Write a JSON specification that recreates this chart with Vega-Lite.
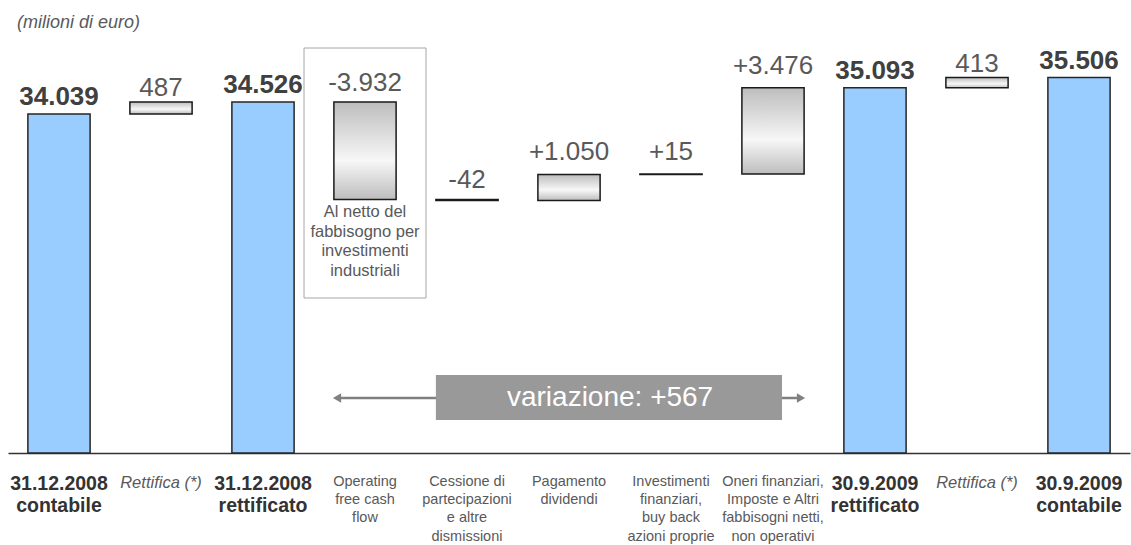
{
  "$schema": "https://vega.github.io/schema/vega-lite/v6.json",
  "width": 1122,
  "height": 420,
  "autosize": {"type": "none"},
  "padding": {"left": 8, "top": 33, "right": 1, "bottom": 92},
  "background": "white",
  "config": {
    "view": {"stroke": null},
    "font": "Liberation Sans",
    "locale": {
      "number": {"decimal": ",", "thousands": ".", "grouping": [3], "currency": ["", " €"], "minus": "-"}
    }
  },
  "title": {
    "text": "(milioni di euro)",
    "anchor": "start",
    "font": "Liberation Sans",
    "fontStyle": "italic",
    "fontWeight": "normal",
    "fontSize": 18,
    "color": "#595959",
    "dx": 9,
    "offset": 1
  },
  "data": {
    "values": [
      {"voce": "31.12.2008\ncontabile", "tipo": "totale", "valore": 34039},
      {"voce": "Rettifica (*)", "tipo": "rettifica", "valore": 487, "inizio": 34039, "fine": 34526},
      {"voce": "31.12.2008\nrettificato", "tipo": "totale", "valore": 34526},
      {"voce": "Operating\nfree cash\nflow", "tipo": "variazione", "valore": -3932, "inizio": 34526, "fine": 30594, "nota": "Al netto del\nfabbisogno per\ninvestimenti\nindustriali"},
      {"voce": "Cessione di\npartecipazioni\ne altre\ndismissioni", "tipo": "variazione", "valore": -42, "inizio": 30594, "fine": 30552},
      {"voce": "Pagamento\ndividendi", "tipo": "variazione", "valore": 1050, "inizio": 30552, "fine": 31602},
      {"voce": "Investimenti\nfinanziari,\nbuy back\nazioni proprie", "tipo": "variazione", "valore": 15, "inizio": 31602, "fine": 31617},
      {"voce": "Oneri finanziari,\nImposte e Altri\nfabbisogni netti,\nnon operativi", "tipo": "variazione", "valore": 3476, "inizio": 31617, "fine": 35093},
      {"voce": "30.9.2009\nrettificato", "tipo": "totale", "valore": 35093},
      {"voce": "Rettifica (*) ", "tipo": "rettifica", "valore": 413, "inizio": 35093, "fine": 35506},
      {"voce": "30.9.2009\ncontabile", "tipo": "totale", "valore": 35506}
    ]
  },
  "encoding": {
    "x": {
      "field": "voce",
      "type": "nominal",
      "sort": null,
      "scale": {
        "domain": [
          "31.12.2008\ncontabile",
          "Rettifica (*)",
          "31.12.2008\nrettificato",
          "Operating\nfree cash\nflow",
          "Cessione di\npartecipazioni\ne altre\ndismissioni",
          "Pagamento\ndividendi",
          "Investimenti\nfinanziari,\nbuy back\nazioni proprie",
          "Oneri finanziari,\nImposte e Altri\nfabbisogni netti,\nnon operativi",
          "30.9.2009\nrettificato",
          "Rettifica (*) ",
          "30.9.2009\ncontabile"
        ],
        "paddingInner": 0.39,
        "paddingOuter": 0.195
      },
      "axis": {
        "title": null,
        "domain": true,
        "domainColor": "#333333",
        "domainWidth": 1.5,
        "ticks": false,
        "labelAngle": 0,
        "labelPadding": 21,
        "labelBaseline": "top",
        "labelLimit": 300,
        "labelOverlap": false,
        "labelBound": false,
        "labelFlush": false,
        "labelFont": "Liberation Sans",
        "labelExpr": "split(trim(datum.label), '\\n')",
        "labelFontWeight": {"expr": "test(/^3/, datum.value) ? 'bold' : 'normal'"},
        "labelFontStyle": {"expr": "indexof(datum.value, 'Rettifica') >= 0 ? 'italic' : 'normal'"},
        "labelFontSize": {"expr": "test(/^3/, datum.value) ? 19.5 : indexof(datum.value, 'Rettifica') >= 0 ? 16.5 : 14.5"},
        "labelColor": {"expr": "test(/^3/, datum.value) ? '#333333' : '#595959'"},
        "labelLineHeight": {"expr": "test(/^3/, datum.value) ? 22 : 18.4"}
      }
    }
  },
  "layer": [
    {
      "transform": [{"filter": "datum.tipo === 'totale'"}],
      "mark": {"type": "bar", "fill": "#99ccff", "stroke": "#262626", "strokeWidth": 1.5},
      "encoding": {
        "y": {
          "field": "valore",
          "type": "quantitative",
          "scale": {"domain": [20370, 37305], "nice": false, "zero": false},
          "axis": null
        },
        "y2": {"datum": 20370}
      }
    },
    {
      "transform": [{"filter": "datum.tipo !== 'totale'"}],
      "mark": {
        "type": "bar",
        "stroke": "#1a1a1a",
        "strokeWidth": 1.5,
        "color": {
          "gradient": "linear",
          "x1": 0, "y1": 0, "x2": 0, "y2": 1,
          "stops": [
            {"offset": 0, "color": "#bdbdbd"},
            {"offset": 0.6, "color": "#f7f7f7"},
            {"offset": 1, "color": "#bdbdbd"}
          ]
        }
      },
      "encoding": {
        "y": {"field": "inizio", "type": "quantitative"},
        "y2": {"field": "fine"}
      }
    },
    {
      "transform": [{"filter": "datum.nota"}],
      "mark": {"type": "bar", "width": 122, "fill": "transparent", "stroke": "#a6a6a6", "strokeWidth": 1},
      "encoding": {
        "y": {"datum": 36700, "type": "quantitative"},
        "y2": {"datum": 26620}
      }
    },
    {
      "transform": [{"filter": "datum.nota"}],
      "mark": {"type": "text", "baseline": "top", "dy": 5, "fontSize": 16.5, "color": "#595959", "lineBreak": "\n", "lineHeight": 19.5},
      "encoding": {
        "y": {"field": "fine", "type": "quantitative"},
        "text": {"field": "nota"}
      }
    },
    {
      "transform": [{"filter": "datum.tipo === 'totale'"}],
      "mark": {"type": "text", "baseline": "alphabetic", "dy": -9, "fontSize": 26, "fontWeight": "bold", "color": "#404040"},
      "encoding": {
        "y": {"field": "valore", "type": "quantitative"},
        "text": {"field": "valore", "type": "quantitative", "format": ","}
      }
    },
    {
      "transform": [{"filter": "datum.tipo === 'rettifica'"}],
      "mark": {"type": "text", "baseline": "alphabetic", "dy": -6, "fontSize": 26, "color": "#595959"},
      "encoding": {
        "y": {"field": "fine", "type": "quantitative"},
        "text": {"field": "valore", "type": "quantitative", "format": ","}
      }
    },
    {
      "transform": [{"filter": "datum.tipo === 'variazione' && datum.valore > 0"}],
      "mark": {"type": "text", "baseline": "alphabetic", "dy": -14, "fontSize": 26, "color": "#595959"},
      "encoding": {
        "y": {"field": "fine", "type": "quantitative"},
        "text": {"field": "valore", "type": "quantitative", "format": "+,"}
      }
    },
    {
      "transform": [{"filter": "datum.tipo === 'variazione' && datum.valore < 0"}],
      "mark": {"type": "text", "baseline": "alphabetic", "dy": -11, "fontSize": 26, "color": "#595959"},
      "encoding": {
        "y": {"field": "inizio", "type": "quantitative"},
        "text": {"field": "valore", "type": "quantitative", "format": "+,"}
      }
    },
    {
      "transform": [{"filter": "datum.nota"}],
      "mark": {"type": "rule", "stroke": "#808080", "strokeWidth": 2.5},
      "encoding": {
        "x": {"field": "voce", "type": "nominal", "bandPosition": 0.05},
        "x2": {"datum": "Oneri finanziari,\nImposte e Altri\nfabbisogni netti,\nnon operativi", "bandPosition": 0.95},
        "y": {"datum": 22590, "type": "quantitative"}
      }
    },
    {
      "transform": [{"filter": "datum.nota"}],
      "mark": {"type": "point", "shape": "triangle-left", "filled": true, "size": 90, "color": "#808080", "opacity": 1},
      "encoding": {
        "x": {"field": "voce", "type": "nominal", "bandPosition": 0.05},
        "y": {"datum": 22590, "type": "quantitative"}
      }
    },
    {
      "transform": [{"filter": "datum.nota"}],
      "mark": {"type": "point", "shape": "triangle-right", "filled": true, "size": 90, "color": "#808080", "opacity": 1},
      "encoding": {
        "x": {"datum": "Oneri finanziari,\nImposte e Altri\nfabbisogni netti,\nnon operativi", "type": "nominal", "bandPosition": 0.95},
        "y": {"datum": 22590, "type": "quantitative"}
      }
    },
    {
      "transform": [{"filter": "datum.nota"}],
      "mark": {"type": "rect", "fill": "#999999"},
      "encoding": {
        "x": {"datum": "Cessione di\npartecipazioni\ne altre\ndismissioni", "type": "nominal", "bandPosition": 0},
        "x2": {"datum": "Oneri finanziari,\nImposte e Altri\nfabbisogni netti,\nnon operativi", "bandPosition": 0.645},
        "y": {"datum": 23515, "type": "quantitative"},
        "y2": {"datum": 21700}
      }
    },
    {
      "transform": [{"filter": "datum.nota"}],
      "mark": {"type": "text", "baseline": "middle", "align": "center", "fontSize": 28, "color": "white"},
      "encoding": {
        "x": {"datum": "Pagamento\ndividendi", "type": "nominal", "bandPosition": 1.16},
        "y": {"datum": 22600, "type": "quantitative"},
        "text": {"value": "variazione: +567"}
      }
    }
  ]
}
